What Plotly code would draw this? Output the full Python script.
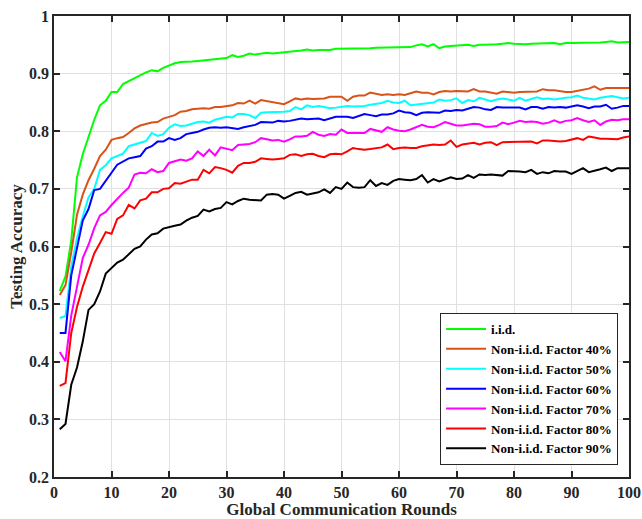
import plotly.graph_objects as go

rounds = list(range(1, 101))

iid = [.523,.548,.61,.72,.76,.79,.82,.845,.853,.868,.868,.882,.887,.893,.898,.902,.906,.904,.91,.914,
       .918,.92,.92,.921,.922,.923,.924,.924,.926,.927,.932,.929,.931,.935,.933,.934,.936,.935,.936,.937,
       .937,.939,.94,.942,.94,.941,.941,.941,.943,.943,.943,.943,.944,.944,.944,.945,.945,.945,.945,.945,
       .945,.946,.949,.951,.947,.951,.944,.947,.948,.949,.949,.950,.948,.950,.950,.950,.951,.952,.953,.952,
       .951,.951,.952,.952,.952,.953,.953,.951,.953,.953,.953,.954,.954,.953,.954,.955,.956,.954,.955,.955]

f40 = [.516,.533,.59,.655,.69,.715,.735,.757,.768,.785,.788,.79,.797,.805,.81,.813,.815,.816,.822,.825,
       .828,.834,.835,.838,.839,.84,.839,.842,.842,.844,.845,.849,.848,.853,.848,.854,.852,.851,.849,.847,
       .852,.857,.855,.857,.856,.856,.857,.86,.86,.86,.853,.86,.862,.862,.867,.865,.863,.864,.863,.864,
       .863,.866,.869,.867,.867,.864,.868,.87,.869,.87,.869,.869,.873,.869,.869,.867,.865,.869,.868,.867,
       .868,.868,.868,.869,.873,.871,.871,.869,.868,.868,.87,.873,.874,.878,.872,.875,.875,.874,.875,.875]

f50 = [.476,.479,.565,.615,.652,.685,.70,.733,.741,.753,.757,.761,.774,.777,.779,.783,.797,.792,.795,.806,
       .812,.809,.81,.813,.816,.817,.815,.82,.822,.825,.824,.83,.83,.828,.823,.832,.833,.833,.834,.834,
       .835,.842,.838,.845,.842,.844,.842,.84,.841,.843,.844,.843,.843,.844,.846,.847,.849,.853,.85,.849,
       .853,.845,.846,.847,.848,.85,.855,.853,.854,.857,.849,.854,.852,.858,.855,.852,.855,.857,.855,.853,
       .858,.853,.856,.859,.856,.857,.855,.857,.858,.859,.862,.858,.857,.855,.858,.86,.861,.859,.857,.858]

f60 = [.45,.45,.55,.60,.645,.665,.698,.70,.715,.728,.742,.748,.753,.755,.757,.77,.774,.782,.782,.788,
       .785,.788,.795,.797,.799,.803,.806,.807,.806,.807,.806,.804,.807,.809,.811,.816,.815,.815,.818,.817,
       .818,.82,.822,.821,.821,.822,.819,.822,.825,.825,.825,.823,.826,.83,.828,.826,.829,.829,.831,.836,
       .833,.832,.828,.832,.833,.833,.832,.836,.835,.837,.836,.839,.842,.841,.838,.837,.842,.841,.841,.842,
       .841,.838,.842,.842,.839,.842,.841,.842,.841,.843,.845,.843,.840,.843,.843,.846,.839,.841,.844,.844]

f70 = [.417,.401,.48,.53,.58,.603,.632,.654,.66,.672,.683,.693,.702,.725,.728,.727,.734,.729,.731,.745,
       .748,.751,.749,.753,.765,.757,.768,.758,.772,.769,.767,.776,.777,.778,.781,.788,.786,.784,.785,.782,
       .786,.791,.791,.792,.799,.794,.792,.795,.794,.803,.797,.797,.797,.797,.804,.802,.799,.807,.803,.801,
       .80,.803,.807,.811,.808,.807,.811,.816,.813,.81,.81,.812,.813,.812,.808,.808,.809,.815,.812,.815,
       .818,.816,.817,.816,.813,.815,.819,.815,.818,.819,.823,.819,.816,.819,.811,.817,.82,.819,.821,.821]

f80 = [.358,.363,.45,.495,.53,.56,.588,.606,.625,.622,.648,.654,.672,.666,.68,.683,.694,.694,.70,.701,
       .71,.709,.712,.716,.716,.733,.727,.738,.736,.733,.728,.74,.745,.745,.747,.753,.752,.751,.752,.753,
       .759,.76,.757,.76,.761,.757,.755,.76,.761,.76,.765,.771,.769,.768,.769,.77,.772,.777,.769,.771,
       .772,.771,.771,.774,.775,.777,.776,.777,.784,.773,.777,.779,.78,.777,.78,.781,.776,.781,.781,.781,
       .781,.782,.782,.779,.784,.784,.783,.782,.783,.785,.788,.785,.791,.789,.787,.787,.787,.786,.789,.791]

f90 = [.283,.292,.36,.39,.435,.49,.50,.522,.553,.562,.572,.577,.587,.596,.60,.612,.621,.623,.631,.634,
       .636,.638,.645,.65,.653,.664,.661,.665,.667,.677,.673,.679,.683,.681,.681,.68,.69,.691,.69,.683,
       .688,.693,.695,.69,.692,.694,.699,.693,.703,.70,.711,.703,.702,.703,.715,.705,.71,.707,.714,.717,
       .716,.715,.717,.724,.711,.717,.713,.716,.72,.717,.718,.724,.719,.725,.724,.725,.724,.723,.731,.731,
       .73,.729,.733,.726,.729,.727,.731,.73,.73,.726,.731,.736,.729,.731,.734,.737,.731,.736,.736,.736]

series_names = ["i.i.d.", "Non-i.i.d. Factor 40%", "Non-i.i.d. Factor 50%", "Non-i.i.d. Factor 60%",
                "Non-i.i.d. Factor 70%", "Non-i.i.d. Factor 80%", "Non-i.i.d. Factor 90%"]
series_values = [iid, f40, f50, f60, f70, f80, f90]
colors = ["#00ff00", "#d95319", "#00ffff", "#0000ff", "#ff00ff", "#ff0000", "#000000"]

x_ticks = list(range(0, 101, 10))
y_ticks = [0.2, 0.3, 0.4, 0.5, 0.6, 0.7, 0.8, 0.9, 1.0]
y_ticktext = ["0.2", "0.3", "0.4", "0.5", "0.6", "0.7", "0.8", "0.9", "1"]

fig = go.Figure()
for name, vals, c in zip(series_names, series_values, colors):
    fig.add_trace(go.Scatter(x=rounds, y=vals, mode="lines", name=name,
                             line=dict(color=c, width=2)))

font_family = "Liberation Serif, Times New Roman, serif"
axis_common = dict(
    showline=True, linecolor="#262626", linewidth=1.5, mirror="ticks",
    ticks="inside", ticklen=6, tickwidth=1.5, tickcolor="#262626",
    showgrid=True, gridcolor="#e0e0e0", gridwidth=1, zeroline=False,
    automargin=False,
    tickfont=dict(family=font_family, size=16, color="#262626", weight="bold"),
)

fig.update_layout(
    width=642, height=519,
    margin=dict(l=54, r=13, t=16, b=42),
    paper_bgcolor="white", plot_bgcolor="white",
    font=dict(family=font_family, color="#262626"),
    xaxis=dict(range=[0, 100], tickvals=x_ticks, **axis_common,
               title=dict(text="Global Communication Rounds", standoff=7,
                          font=dict(family=font_family, size=17, color="#262626", weight="bold"))),
    yaxis=dict(range=[0.2, 1.0], tickvals=y_ticks, ticktext=y_ticktext, **axis_common,
               title=dict(text="Testing Accuracy", standoff=2,
                          font=dict(family=font_family, size=17, color="#262626", weight="bold"))),
    legend=dict(x=0.981, y=0.026, xanchor="right", yanchor="bottom",
                bgcolor="white", bordercolor="#262626", borderwidth=1,
                font=dict(family=font_family, size=13, color="#000000", weight="bold"),
                tracegroupgap=0, itemwidth=40),
    showlegend=True,
)

fig.write_html("out.html", config={"displayModeBar": False})

# remove the browser's default body margin so the figure sits at the page origin
with open("out.html", "r", encoding="utf-8") as fh:
    html = fh.read()
html = html.replace("<body>", '<body style="margin:0;padding:0;">', 1)
with open("out.html", "w", encoding="utf-8") as fh:
    fh.write(html)
